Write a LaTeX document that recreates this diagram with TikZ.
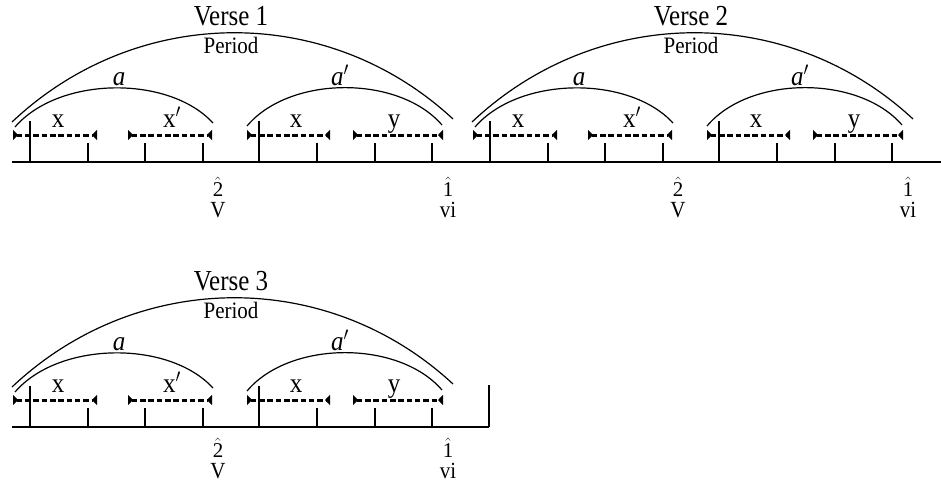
\documentclass[tikz,border=0pt]{standalone}
\usepackage{fontspec}
\usepackage{graphicx}
\setmainfont{Liberation Serif}
\usetikzlibrary{arrows.meta}
\tikzset{
  baseline rule/.style={line width=2.7pt},
  tickline/.style={line width=2.1pt},
  bracket/.style={line width=3pt, dash pattern=on 5.5pt off 2.8pt,
    {Triangle[reversed,length=5pt,width=10pt]}-{Triangle[reversed,length=5pt,width=10pt]}},
  arcline/.style={line width=1.2pt},
  titlelbl/.style={inner sep=0pt, anchor=base, font=\fontsize{25}{28}\selectfont},
  periodlbl/.style={inner sep=0pt, anchor=base, font=\fontsize{21}{24}\selectfont},
  partlbl/.style={inner sep=0pt, anchor=base, font=\fontsize{25}{28}\selectfont},
  harmlbl/.style={inner sep=0pt, anchor=base, text depth=0pt, font=\fontsize{21}{24}\selectfont},
}
\newcommand\drawverse[3]{%
  \node[titlelbl] (#1title) at (231,25) {\scalebox{1}[1.16]{Verse #2}};
  \node[periodlbl] (#1period) at (231,53) {\scalebox{1}[1.12]{Period}};
  \node[partlbl] (#1a) at (119,85) {\scalebox{1}[1.1]{\textit{a}}};
  \node[partlbl] (#1ap) at (340,85) {\scalebox{1}[1.1]{\textit{a}$'$}};
  \node[partlbl] (#1x1) at (58,127) {\scalebox{1}[1.1]{x}};
  \node[partlbl] (#1x2) at (172,127) {\scalebox{1}[1.1]{x$'$}};
  \node[partlbl] (#1x3) at (296,127) {\scalebox{1}[1.1]{x}};
  \node[partlbl] (#1y) at (394,127) {\scalebox{1}[1.1]{y}};
  \node[harmlbl] (#1two) at (218,#3-21) {$\hat{\hbox{2}}$};
  \node[harmlbl] (#1V) at (218,#3) {\scalebox{1}[1.1]{V}};
  \node[harmlbl] (#1one) at (448,#3-21) {$\hat{\hbox{1}}$};
  \node[harmlbl] (#1vi) at (448,#3) {\scalebox{1}[1.1]{vi}};
  % arcs
  \coordinate (#1P0) at (12,122); \coordinate (#1P1) at (453,119);
  \coordinate (#1A0) at (15,127); \coordinate (#1A1) at (213,123);
  \coordinate (#1B0) at (247,126); \coordinate (#1B1) at (442,125);
  \draw[arcline] (#1P0) .. controls +(125,-118) and +(-125,-116) .. (#1P1);
  \draw[arcline] (#1A0) .. controls +(44,-51) and +(-44,-48) .. (#1A1);
  \draw[arcline] (#1B0) .. controls +(43,-51) and +(-43,-50) .. (#1B1);
  % brackets
  \coordinate (#1s1) at (13,135); \coordinate (#1e1) at (97,135);
  \coordinate (#1s2) at (128,135); \coordinate (#1e2) at (212,135);
  \coordinate (#1s3) at (247,135); \coordinate (#1e3) at (330,135);
  \coordinate (#1s4) at (353,135); \coordinate (#1e4) at (443,135);
  \draw[bracket] (#1s1) -- (#1e1);
  \draw[bracket] (#1s2) -- (#1e2);
  \draw[bracket] (#1s3) -- (#1e3);
  \draw[bracket] (#1s4) -- (#1e4);
  % ticks
  \foreach \t in {30,259} \draw[tickline] (\t,121) -- (\t,162);
  \foreach \t in {88,145,203,317,375,432} \draw[tickline] (\t,143) -- (\t,162);
}
\begin{document}
\begin{tikzpicture}[x=1pt,y=-1pt]
  \useasboundingbox (0,0) rectangle (941,483);
  % row 1
  \coordinate (r1l) at (12,162); \coordinate (r1r) at (941,162);
  \draw[baseline rule] (r1l) -- (r1r);
  \drawverse{v1}{1}{217}
  \begin{scope}[shift={(460,0)}]
    \drawverse{v2}{2}{217}
  \end{scope}
  % row 2
  \begin{scope}[shift={(0,265)}]
    \coordinate (r2l) at (12,162); \coordinate (r2r) at (489,162);
    \coordinate (r2t) at (489,120);
    \draw[baseline rule] (r2l) -- (r2r);
    \draw[tickline] (r2r) -- (r2t);
    \drawverse{v3}{3}{213}
  \end{scope}
\end{tikzpicture}
\end{document}
